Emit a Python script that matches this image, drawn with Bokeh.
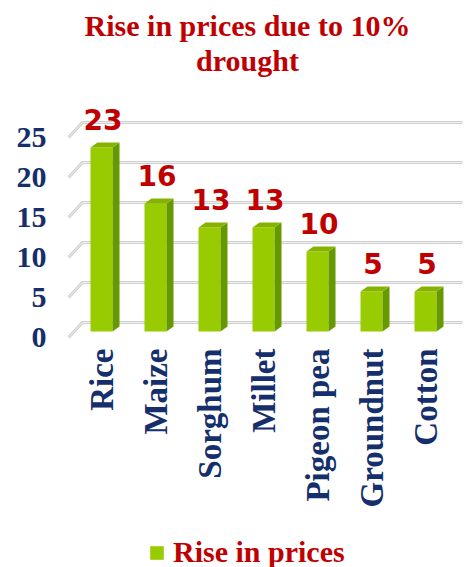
from math import pi

from bokeh.core.properties import value
from bokeh.embed import file_html
from bokeh.layouts import column
from bokeh.models import FixedTicker, Legend, LegendItem, Range1d
from bokeh.plotting import figure
from bokeh.resources import INLINE

# ---- data -------------------------------------------------------------
crops = ["Rice", "Maize", "Sorghum", "Millet", "Pigeon pea", "Groundnut", "Cotton"]
rise = [23, 16, 13, 13, 10, 5, 5]
y_ticks = [0, 5, 10, 15, 20, 25]
series_name = "Rise in prices"
title_lines = ["Rise in prices due to 10%", "drought"]

# ---- pseudo-3D geometry (pixel sizes converted to data units) ---------
PX_PER_X = 54.0          # one category step
PX_PER_Y = 8.0           # one unit of price rise
FRAME_W, FRAME_H = 400, 345
ZERO_PX_X, ZERO_PX_Y = 101, 337     # where category 0 / value 0 sit in the frame
X_START = (64 - ZERO_PX_X) / PX_PER_X
Y_END = ZERO_PX_Y / PX_PER_Y
X_END = X_START + FRAME_W / PX_PER_X
Y_START = Y_END - FRAME_H / PX_PER_Y


def ux(px):
    return px / PX_PER_X


def uy(px):
    return px / PX_PER_Y


def at_px_x(px):
    return (px - ZERO_PX_X) / PX_PER_X


def at_px_y(px):
    return (ZERO_PX_Y - px) / PX_PER_Y


WALL_DX, WALL_DY = ux(14), uy(15)   # depth of the floor / back wall
BAR_LIFT = uy(6)                    # bars stand a little behind the floor edge
HALF_W = ux(11)                     # half width of a bar's front face
SIDE_DX, SIDE_DY = ux(7), uy(5)     # bar depth

GREEN = "#99CC00"
GREEN_SIDE = "#669900"
GREEN_TOP = "#86B300"
RED = "#C00000"
NAVY = "#142F6B"
SERIF = "Liberation Serif"

p = figure(
    frame_width=FRAME_W, frame_height=FRAME_H,
    x_range=Range1d(X_START, X_END), y_range=Range1d(Y_START, Y_END),
    output_backend="svg", toolbar_location=None,
    min_border_left=64, min_border_right=0,
    min_border_top=0, min_border_bottom=182,
    outline_line_color=None,
)
p.xgrid.visible = False
p.ygrid.visible = False

# ---- two-line centred title -------------------------------------------
p.text(
    x=[at_px_x(247)] * 2, y=[at_px_y(24.5), at_px_y(59.5)],
    text=title_lines, text_align="center", text_baseline="middle",
    text_font=value(SERIF), text_font_style="bold",
    text_font_size="30px", text_color=RED,
)

# ---- back wall gridlines and floor diagonals --------------------------
x_front = X_START + ux(4)
x_back = x_front + WALL_DX
x_right = X_END - ux(2)
grid_xs, grid_ys = [], []
for t in y_ticks:
    grid_xs.append([x_front, x_back, x_right])
    grid_ys.append([t, t + WALL_DY, t + WALL_DY])
p.multi_line(grid_xs, grid_ys, line_color="#CFCFCF", line_width=3)
p.multi_line(grid_xs, grid_ys, line_color="#F0F0F0", line_width=1)

# ---- bars -------------------------------------------------------------
xs = list(range(len(crops)))
tops = [v + BAR_LIFT for v in rise]
front = p.quad(
    left=[x - HALF_W for x in xs], right=[x + HALF_W for x in xs],
    bottom=[BAR_LIFT] * len(xs), top=tops,
    fill_color=GREEN, line_color=None,
)
side_xs = [[x + HALF_W, x + HALF_W + SIDE_DX, x + HALF_W + SIDE_DX, x + HALF_W] for x in xs]
side_ys = [[BAR_LIFT, BAR_LIFT + SIDE_DY, t + SIDE_DY, t] for t in tops]
p.patches(side_xs, side_ys, fill_color=GREEN_SIDE, line_color=None)
top_xs = [[x - HALF_W, x + HALF_W, x + HALF_W + SIDE_DX, x - HALF_W + SIDE_DX] for x in xs]
top_ys = [[t, t, t + SIDE_DY, t + SIDE_DY] for t in tops]
p.patches(top_xs, top_ys, fill_color=GREEN_TOP, line_color=None)

# ---- value labels -----------------------------------------------------
p.text(
    x=[x + ux(1.5) for x in xs], y=[t + uy(28) for t in tops],
    text=[str(v) for v in rise],
    text_align="center", text_baseline="middle",
    text_font=value("DejaVu Sans"), text_font_style="bold",
    text_font_size="28px", text_color=RED,
)

# ---- axes -------------------------------------------------------------
p.yaxis.ticker = FixedTicker(ticks=y_ticks)
p.yaxis.major_label_standoff = 18
p.yaxis.major_label_text_font_size = "30px"
p.xaxis.ticker = FixedTicker(ticks=xs)
p.xaxis.major_label_overrides = {i: c for i, c in enumerate(crops)}
p.xaxis.major_label_orientation = pi / 2
p.xaxis.major_label_standoff = 3
p.xaxis.major_label_text_font_size = "33px"
for ax in (p.xaxis, p.yaxis):
    ax.axis_line_color = None
    ax.major_tick_line_color = None
    ax.minor_tick_line_color = None
    ax.major_tick_out = 0
    ax.major_tick_in = 0
    ax.major_label_text_font = SERIF
    ax.major_label_text_font_style = "bold"
    ax.major_label_text_color = NAVY

# ---- legend strip under the chart (frame lines up with the chart's) ----
key = figure(
    width=464, height=40, x_range=Range1d(0, 1), y_range=Range1d(0, 1),
    x_axis_type=None, y_axis_type=None,
    output_backend="svg", toolbar_location=None,
    min_border=0, outline_line_color=None,
)
key.xgrid.visible = False
key.ygrid.visible = False
# zero-size quad: only its fill style is used, by the legend swatch
swatch = key.quad(left=[0], right=[0], bottom=[0], top=[0], fill_color=GREEN, line_color=None)
legend = Legend(
    items=[LegendItem(label=series_name, renderers=[swatch])],
    location=(84, -2), orientation="horizontal",
    label_text_font=SERIF, label_text_font_style="bold",
    label_text_font_size="30px", label_text_color=RED,
    glyph_width=17, glyph_height=17, label_standoff=8,
    border_line_color=None, background_fill_alpha=0,
    padding=0, margin=0,
)
key.add_layout(legend)

open("out.html", "w").write(file_html(column(p, key, spacing=0), INLINE))
